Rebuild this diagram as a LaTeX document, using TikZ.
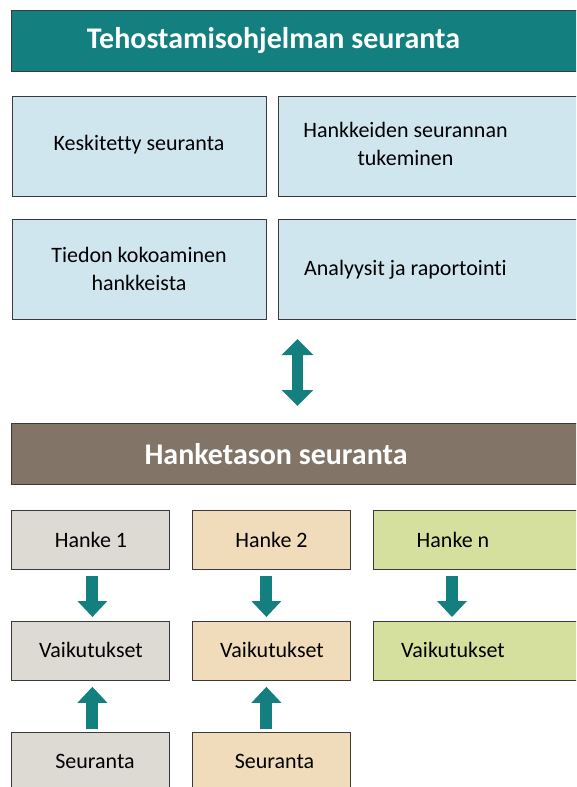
\documentclass[tikz,border=0pt]{standalone}
\usepackage{fontspec}
\setmainfont{Carlito}[Ligatures={NoCommon}]
\usetikzlibrary{arrows.meta,calc}
\definecolor{tealc}{HTML}{137F7F}
\definecolor{lblue}{HTML}{D0E6EE}
\definecolor{brownc}{HTML}{827466}
\definecolor{grayc}{HTML}{DDD9D3}
\definecolor{beigec}{HTML}{F0DCBA}
\definecolor{greenc}{HTML}{D6E09E}
\definecolor{edgec}{HTML}{3A3A3A}
\tikzset{
  box/.style={draw=edgec, line width=0.8pt, rectangle, anchor=north west, inner sep=0pt},
  head/.style={font=\fontsize{30}{34}\selectfont\bfseries, text=white},
  lbl/.style={font=\fontsize{22}{28}\selectfont, text=black, align=center},
  blk/.style={tealc, line width=12pt, -{Triangle[width=29pt,length=16pt]}},
  dblk/.style={tealc, line width=11pt, {Triangle[width=31pt,length=16pt]}-{Triangle[width=31pt,length=16pt]}},
}
\begin{document}
\begin{tikzpicture}[x=1pt,y=-1pt]
\useasboundingbox (0,0) rectangle (576,787);
\clip (0,0) rectangle (576,787);
% top section
\node[box, fill=tealc, minimum width=580pt, minimum height=61pt] (top) at (11,10) {};
\node[head] (toptxt) at (273.5,41) {Tehostamisohjelman seuranta};
\node[box, fill=lblue, minimum width=254pt, minimum height=100pt] (a1) at (12,96) {};
\node[box, fill=lblue, minimum width=310pt, minimum height=100pt] (a2) at (278,96) {};
\node[box, fill=lblue, minimum width=254pt, minimum height=100pt] (a3) at (12,219) {};
\node[box, fill=lblue, minimum width=310pt, minimum height=100pt] (a4) at (278,219) {};
\node[lbl] (t1) at (139,145) {Keskitetty seuranta};
\node[lbl] (t2) at (405.5,144) {Hankkeiden seurannan\\tukeminen};
\node[lbl] (t3) at (139,269) {Tiedon kokoaminen\\hankkeista};
\node[lbl] (t4) at (405.5,270) {Analyysit ja raportointi};
% middle arrow
\coordinate (m1) at (297.5,339);
\coordinate (m2) at (297.5,406);
\draw[dblk] (m1) -- (m2);
% lower section
\node[box, fill=brownc, minimum width=580pt, minimum height=61pt] (mid) at (11,423) {};
\node[head] (midtxt) at (276,454) {Hanketason seuranta};
\node[box, fill=grayc, minimum width=158pt, minimum height=59pt] (h1) at (11,510) {};
\node[box, fill=beigec, minimum width=158pt, minimum height=59pt] (h2) at (192,510) {};
\node[box, fill=greenc, minimum width=220pt, minimum height=59pt] (h3) at (373,510) {};
\node[box, fill=grayc, minimum width=158pt, minimum height=59pt] (v1) at (11,621) {};
\node[box, fill=beigec, minimum width=158pt, minimum height=59pt] (v2) at (192,621) {};
\node[box, fill=greenc, minimum width=220pt, minimum height=59pt] (v3) at (373,621) {};
\node[box, fill=grayc, minimum width=158pt, minimum height=70pt] (s1) at (11,732) {};
\node[box, fill=beigec, minimum width=158pt, minimum height=70pt] (s2) at (192,732) {};
\node[lbl] (ht1) at (91,539.5) {Hanke 1};
\node[lbl] (ht2) at (271.5,539.5) {Hanke 2};
\node[lbl] (ht3) at (453,539.5) {Hanke n};
\node[lbl] (vt1) at (91,650) {Vaikutukset};
\node[lbl] (vt2) at (272,650) {Vaikutukset};
\node[lbl] (vt3) at (453,650) {Vaikutukset};
\node[lbl] (st1) at (95,761) {Seuranta};
\node[lbl] (st2) at (274.5,761) {Seuranta};
% block arrows
\draw[blk] ($(h1.south)+(2,6)$) -- ($(v1.north)+(2,-4)$);
\draw[blk] ($(h2.south)+(-5,6)$) -- ($(v2.north)+(-5,-4)$);
\draw[blk] ($(h3.south west)+(79,6)$) -- ($(v3.north west)+(79,-4)$);
\draw[blk] ($(s1.north)+(2,-3)$) -- ($(v1.south)+(2,6)$);
\draw[blk] ($(s2.north)+(-5,-3)$) -- ($(v2.south)+(-5,6)$);
\end{tikzpicture}
\end{document}
